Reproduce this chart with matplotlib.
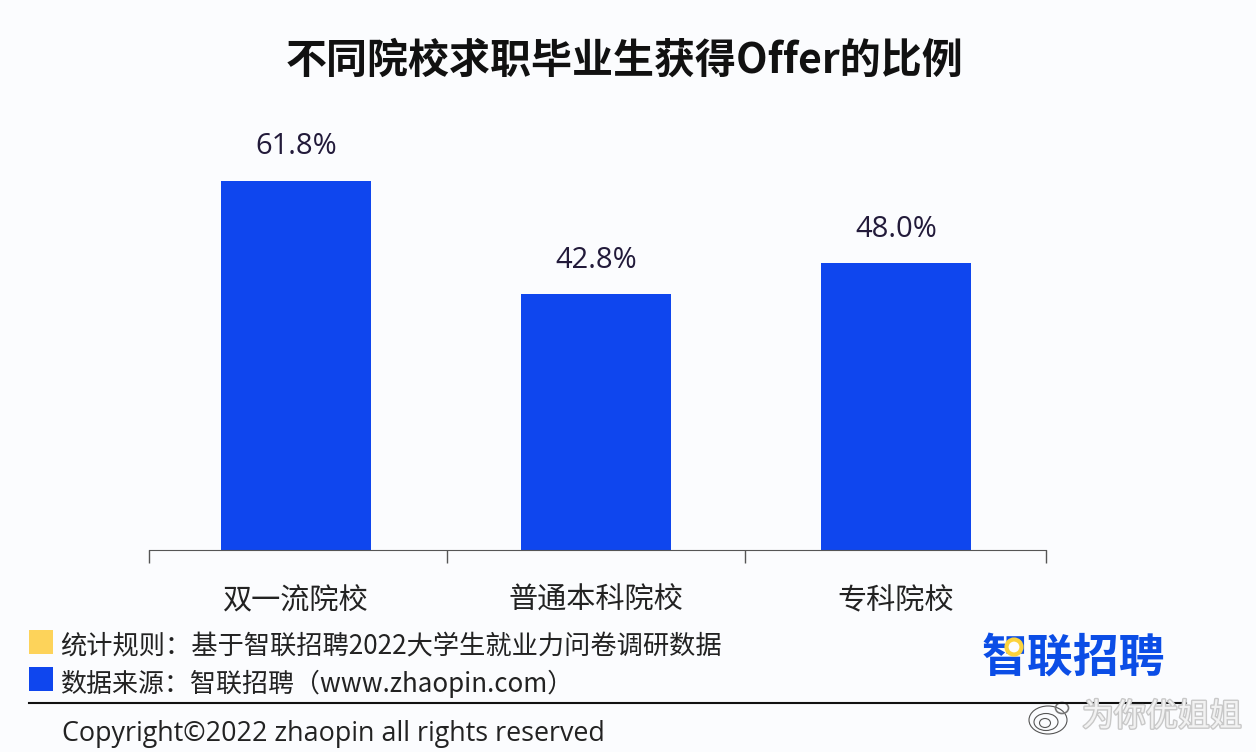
import matplotlib
matplotlib.use('Agg')
import matplotlib.pyplot as plt
import matplotlib.patheffects as pe
from matplotlib.patches import Rectangle, Ellipse

plt.rcParams['font.family'] = ['Noto Sans CJK SC', 'DejaVu Sans']

categories = ['双一流院校', '普通本科院校', '专科院校']
values = [61.8, 42.8, 48.0]
value_labels = ['61.8%', '42.8%', '48.0%']

title = '不同院校求职毕业生获得Offer的比例'
rule_text = '统计规则：基于智联招聘2022大学生就业力问卷调研数据'
source_text = '数据来源：智联招聘（www.zhaopin.com）'
copyright_text = 'Copyright©2022 zhaopin all rights reserved'
logo_text = '智联招聘'
watermark_text = '为你优姐姐'

W, H = 1256, 752
BG = '#fbfcfe'
BLUE = '#0f46ee'
fig = plt.figure(figsize=(W / 100, H / 100), dpi=100, facecolor=BG)

ax = fig.add_axes([149 / W, 1 - 550 / H, (1046 - 149) / W, (550 - 181) / H], facecolor='none')
x = range(len(categories))
ax.bar(x, values, width=0.5, color=BLUE)
ax.set_xlim(-0.49, 2.5)
ax.set_ylim(0, 61.8)
for s in ['top', 'right', 'left']:
    ax.spines[s].set_visible(False)
ax.spines['bottom'].set_color('#555555')
ax.set_yticks([])
ax.set_xticks([-0.49, 0.503, 1.497, 2.5])
ax.set_xticklabels([])
ax.tick_params(axis='x', direction='out', length=9, color='#555555', width=1)
for i, c in enumerate(categories):
    ax.annotate(c, (i, 0), xytext=(0, -51), textcoords='offset pixels',
                ha='center', va='center', fontsize=21, color='#222222')
for i, (v, l) in enumerate(zip(values, value_labels)):
    ax.annotate(l, (i, v), xytext=(0, 34), textcoords='offset pixels', ha='center', va='center',
                fontsize=21, color='#221a3a', family=['Open Sans', 'DejaVu Sans'])


def T(px, py, s, **kw):
    fig.text(px / W, 1 - py / H, s, **kw)


T(625, 61, title, ha='center', va='center', fontsize=29.5, fontweight='bold', color='#111111')
fig.add_artist(Rectangle((29 / W, 1 - 654 / H), 24 / W, 24 / H, transform=fig.transFigure, color='#fdd35a', lw=0))
fig.add_artist(Rectangle((29 / W, 1 - 691 / H), 24 / W, 24 / H, transform=fig.transFigure, color=BLUE, lw=0))
T(60, 646, rule_text, ha='left', va='center', fontsize=18.9, color='#222222')
T(60, 684, source_text, ha='left', va='center', fontsize=18.7, color='#222222')
T(62, 734, copyright_text, ha='left', va='center', fontsize=19.35, color='#222222',
  family=['Open Sans', 'DejaVu Sans'])
T(1073, 659, logo_text, ha='center', va='center', fontsize=33, fontweight='bold', color='#0b4de6')
fig.add_artist(Ellipse((1014 / W, 1 - 647 / H), 15 / W, 15 / H, transform=fig.transFigure,
                       facecolor=BG, edgecolor='#fcd33c', lw=3, zorder=6))
T(1162, 717, watermark_text, ha='center', va='center', fontsize=23, color='#f2f2f2',
  path_effects=[pe.withStroke(linewidth=2, foreground='#c8c8c8')])
fig.add_artist(plt.Line2D([29 / W, 1186 / W], [1 - 703 / H] * 2, color='#111111', lw=1.5))
for cx, cy, w, h in [(1048, 720, 38, 28), (1046, 722, 24, 17), (1045, 723, 11, 9)]:
    fig.add_artist(Ellipse((cx / W, 1 - cy / H), w / W, h / H, transform=fig.transFigure,
                           facecolor='none', edgecolor='#555555', lw=0.8))
fig.add_artist(Ellipse((1062 / W, 1 - 708 / H), 13 / W, 11 / H, transform=fig.transFigure,
                       facecolor='none', edgecolor='#777777', lw=1.2))
fig.savefig('out.png', dpi=100, facecolor=BG)
